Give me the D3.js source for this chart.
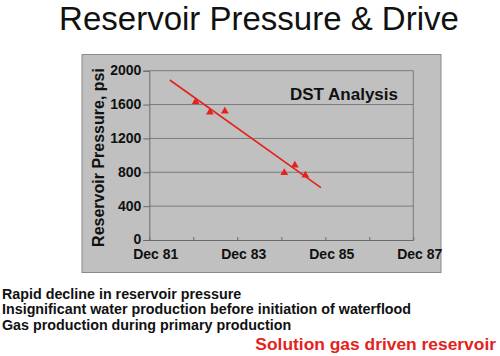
<!DOCTYPE html>
<html>
<head>
<meta charset="utf-8">
<script src="https://cdn.jsdelivr.net/npm/d3@7"></script>
<style>
  html, body { margin: 0; padding: 0; background: #fff; }
  svg { display: block; font-family: "Liberation Sans", Arial, sans-serif; }
</style>
</head>
<body>
<svg id="chart" width="500" height="356"></svg>
<script>
// ---- Data ----
const title = "Reservoir Pressure & Drive";
const yAxisTitle = "Reservoir Pressure, psi";
const annotation = "DST Analysis";
const pointDates = ["1982-12-21", "1983-04-18", "1983-08-20", "1984-12-25", "1985-03-23", "1985-06-18"];
const pointPressures = [1634, 1508, 1520, 795, 882, 764];
const trendDates = ["1982-05-20", "1985-10-25"];
const trendPressures = [1890, 618];
const xTickDates = ["1981-12-01", "1982-12-01", "1983-12-01", "1984-12-01", "1985-12-01", "1986-12-01", "1987-12-01"];
const xTickLabels = ["Dec 81", "", "Dec 83", "", "Dec 85", "", "Dec 87"];
const yTicks = [0, 400, 800, 1200, 1600, 2000];
const bullets = [
  "Rapid decline in reservoir pressure",
  "Insignificant water production before initiation of waterflood",
  "Gas production during primary production"
];
const conclusion = "Solution gas driven reservoir";

// ---- Layout ----
const parse = d3.utcParse("%Y-%m-%d");
const svg = d3.select("#chart");
const red = "#e4221c";
const plot = { left: 149.3, right: 413.3, top: 70.7, bottom: 240 };

svg.append("rect").attr("width", 500).attr("height", 356).attr("fill", "#fff");

svg.append("text")
  .attr("x", 259).attr("y", 30)
  .attr("text-anchor", "middle")
  .attr("font-size", 33)
  .attr("fill", "#111")
  .text(title);

// gray panel
svg.append("rect")
  .attr("x", 82).attr("y", 54.5).attr("width", 359).attr("height", 218)
  .attr("fill", "#c0c0c0").attr("stroke", "#8a8a8a").attr("stroke-width", 1);

const x = d3.scaleUtc()
  .domain([parse(xTickDates[0]), parse(xTickDates[xTickDates.length - 1])])
  .range([plot.left, plot.right]);
const y = d3.scaleLinear().domain([0, 2000]).range([plot.bottom, plot.top]);

// gridlines
svg.append("g").selectAll("line")
  .data(yTicks.filter(d => d > 0))
  .join("line")
  .attr("x1", plot.left).attr("x2", plot.right)
  .attr("y1", d => y(d)).attr("y2", d => y(d))
  .attr("stroke", "#7a7a7a").attr("stroke-width", 1);

// right border of plot
svg.append("line")
  .attr("x1", plot.right).attr("x2", plot.right)
  .attr("y1", plot.top).attr("y2", plot.bottom)
  .attr("stroke", "#7a7a7a");

// y axis
const yAxis = svg.append("g")
  .attr("transform", `translate(${plot.left},0)`)
  .call(d3.axisLeft(y).tickValues(yTicks).tickSize(6).tickPadding(2).tickFormat(d3.format("d")));
yAxis.select(".domain").attr("stroke", "#6a6a6a");
yAxis.selectAll(".tick line").attr("stroke", "#6a6a6a");
yAxis.selectAll("text")
  .attr("dy", "0.28em")
  .attr("font-size", 14).attr("font-weight", "bold").attr("fill", "#111")
  .attr("font-family", "Liberation Sans, Arial, sans-serif");

// x axis
const xAxis = svg.append("g")
  .attr("transform", `translate(0,${plot.bottom})`)
  .call(d3.axisBottom(x)
    .tickValues(xTickDates.map(parse))
    .tickSizeInner(-3).tickSizeOuter(0)
    .tickFormat((d, i) => xTickLabels[i]));
xAxis.select(".domain").attr("stroke", "#6a6a6a");
xAxis.selectAll(".tick line").attr("stroke", "#6a6a6a");
xAxis.selectAll("text")
  .attr("y", 19).attr("dy", 0).attr("dx", 6)
  .attr("font-size", 14).attr("font-weight", "bold").attr("fill", "#111")
  .attr("font-family", "Liberation Sans, Arial, sans-serif");

// y axis title
svg.append("text")
  .attr("transform", `translate(104,157.5) rotate(-90)`)
  .attr("text-anchor", "middle")
  .attr("font-size", 16).attr("font-weight", "bold").attr("fill", "#111")
  .text(yAxisTitle);

// annotation
svg.append("text")
  .attr("x", 344).attr("y", 100)
  .attr("text-anchor", "middle")
  .attr("font-size", 17).attr("font-weight", "bold").attr("fill", "#111")
  .text(annotation);

// trend line
const trend = trendDates.map((d, i) => [parse(d), trendPressures[i]]);
svg.append("path")
  .attr("d", d3.line().x(d => x(d[0])).y(d => y(d[1]))(trend))
  .attr("fill", "none").attr("stroke", red).attr("stroke-width", 1.6);

// points
const pts = pointDates.map((d, i) => [parse(d), pointPressures[i]]);
svg.append("g").selectAll("path")
  .data(pts)
  .join("path")
  .attr("transform", d => `translate(${x(d[0])},${y(d[1])})`)
  .attr("d", d3.symbol(d3.symbolTriangle, 26))
  .attr("fill", red);

// bullets
svg.append("g").selectAll("text")
  .data(bullets)
  .join("text")
  .attr("x", 2).attr("y", (d, i) => 298.5 + i * 15.5)
  .attr("font-size", 14.3).attr("font-weight", "bold").attr("fill", "#111")
  .text(d => d);

svg.append("text")
  .attr("x", 496).attr("y", 350)
  .attr("text-anchor", "end")
  .attr("font-size", 17.4).attr("font-weight", "bold").attr("fill", red)
  .text(conclusion);
</script>
</body>
</html>
